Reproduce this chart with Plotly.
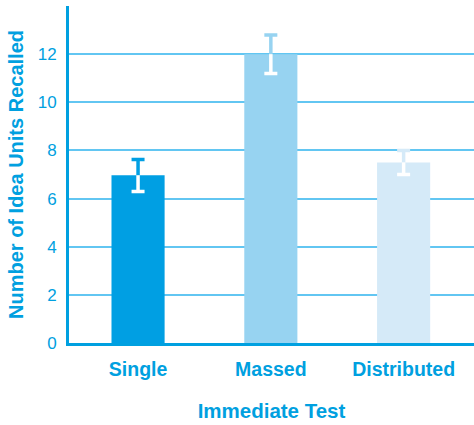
import plotly.graph_objects as go

categories = ["Single", "Massed", "Distributed"]
means = [6.97, 12.0, 7.5]
err_up = [0.65, 0.8, 0.5]
err_down = [0.68, 0.8, 0.5]
bar_colors = ["#009fe3", "#97d3f1", "#d5eaf8"]
y_ticks = [0, 2, 4, 6, 8, 10, 12]

BLUE = "#00a0e0"
GRID = "#62c6f2"
FONT = "Liberation Sans"

fig = go.Figure()
fig.add_trace(go.Bar(x=categories, y=means, width=0.4,
                     marker=dict(color=bar_colors, line=dict(width=0)),
                     showlegend=False, hoverinfo="skip"))

hidden = dict(size=1, color="rgba(0,0,0,0)")
for cat, m, up, col in zip(categories, means, err_up, bar_colors):
    # colored stem above the bar
    fig.add_trace(go.Scatter(x=[cat], y=[m], mode="markers", marker=hidden,
                             error_y=dict(type="data", symmetric=False, array=[up], arrayminus=[0],
                                          width=0, thickness=3.5, color=col),
                             showlegend=False, hoverinfo="skip"))
    # colored cap
    fig.add_trace(go.Scatter(x=[cat], y=[m + up], mode="markers", marker=hidden,
                             error_y=dict(type="data", array=[0], width=6.5, thickness=3.5, color=col),
                             showlegend=False, hoverinfo="skip"))

# white stem inside the bar
fig.add_trace(go.Scatter(x=categories, y=means, mode="markers", marker=hidden,
                         error_y=dict(type="data", symmetric=False, array=[0] * 3, arrayminus=err_down,
                                      width=0, thickness=3.5, color="white"),
                         showlegend=False, hoverinfo="skip"))
# white shoe
fig.add_trace(go.Scatter(x=categories, y=[m - d for m, d in zip(means, err_down)], mode="markers",
                         marker=hidden,
                         error_y=dict(type="data", array=[0] * 3, width=6.5, thickness=3.5, color="white"),
                         showlegend=False, hoverinfo="skip"))

fig.update_layout(
    width=474, height=425,
    margin=dict(l=69, r=0, t=6, b=82),
    paper_bgcolor="white", plot_bgcolor="white",
    font=dict(family=FONT, color=BLUE),
    xaxis=dict(type="category", range=[-0.52, 2.53], showgrid=False,
               showline=True, linecolor=BLUE, linewidth=3,
               ticks="", ticklabelstandoff=7, tickfont=dict(size=19.5, weight="bold", color=BLUE),
               title=dict(text="Immediate Test", font=dict(size=20.5, weight="bold", color=BLUE), standoff=25),
               fixedrange=True),
    yaxis=dict(range=[0, 14], tickvals=y_ticks, showgrid=True, gridcolor=GRID, gridwidth=1.5,
               zeroline=False, showline=True, linecolor=BLUE, linewidth=3,
               ticks="", ticklabelstandoff=6, tickfont=dict(size=17, color=BLUE),
               title=dict(text="Number of Idea Units Recalled",
                          font=dict(size=20, weight="bold", color=BLUE), standoff=9),
               fixedrange=True),
)

fig.write_html("out.html", config={"displayModeBar": False},
               post_script="document.body.style.margin='0';document.body.style.padding='0';")
